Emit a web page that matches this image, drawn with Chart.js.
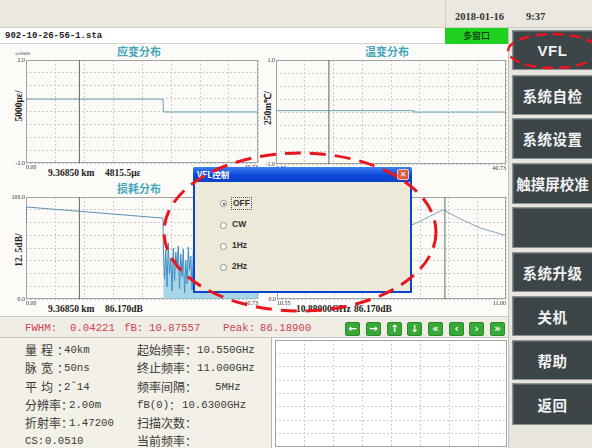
<!DOCTYPE html>
<html><head><meta charset="utf-8">
<script src="https://cdn.jsdelivr.net/npm/chart.js@4.4.1/dist/chart.umd.min.js"></script>
<style>
*{box-sizing:border-box}
html,body{margin:0;padding:0}
body{width:592px;height:448px;overflow:hidden;position:relative;background:#fcfbf8;font-family:"Noto Sans CJK SC",sans-serif;color:#333}
.a{position:absolute;white-space:nowrap}
.btn{position:absolute;left:512px;width:80px;background:#3c4548;border:1px solid #8a9194;border-right:none;box-shadow:inset 1px 1px 0 #5c6568;color:#f2f2f2;font-weight:700;font-size:14.5px;display:flex;align-items:center;justify-content:center;letter-spacing:0.5px}
.arr{position:absolute;top:322px;width:15px;height:14px;background:#38a838;border:1px solid #2b8a2b;border-radius:2px;color:#fff;font:bold 10px "DejaVu Sans";display:flex;align-items:center;justify-content:center;line-height:1}
.ttl{font-size:11px;font-weight:700;color:#43a8ba;line-height:14px}
.cur{font:bold 9.5px "Liberation Serif";color:#222;line-height:12px}
.yt{font:bold 9.5px "Liberation Serif";color:#222;transform:rotate(-90deg);width:60px;text-align:center;height:12px;line-height:12px}
.inf{font-size:12px;color:#3a3a3a;line-height:14px}
.m{font-family:"Liberation Mono";font-size:10.7px}
.st{font-family:"Liberation Mono";font-size:10.7px;color:#cf4250;line-height:14px;top:321px}
.rad{position:absolute;width:7px;height:7px;border:1px solid #8d8d8d;border-radius:50%;background:#fff}
.rt{font:bold 8.5px "Liberation Sans";color:#333;line-height:11px}
</style></head><body>

<!-- header -->
<div class="a" style="left:0;top:0;width:592px;height:28px;background:#ebe8e0;border-bottom:1px solid #d2cfc6"></div>
<div class="a" style="left:445px;top:0;width:1px;height:28px;background:#cfccc3"></div>
<div class="a" style="left:455px;top:11px;font:bold 10.5px 'Liberation Serif';color:#333">2018-01-16</div>
<div class="a" style="left:526px;top:11px;font:bold 10.5px 'Liberation Serif';color:#333">9:37</div>
<div class="a" style="left:0;top:28px;width:508px;height:16px;background:#fff;border-bottom:1px solid #d4d4d4"></div>
<div class="a" style="left:5px;top:30px;font:bold 9px 'Liberation Mono';color:#222;line-height:12px">902-10-26-56-1.sta</div>
<div class="a" style="left:445px;top:28px;width:63px;height:16px;background:#1fd21f;font-size:9px;color:#111;text-align:center;line-height:16px">多窗口</div>

<!-- right column -->
<div class="a" style="left:508px;top:28px;width:84px;height:420px;background:#e8e5dc;border-left:1px solid #c4c1b8"></div>
<div class="btn" style="top:30px;height:40px;font-family:'Liberation Sans';font-size:15px">VFL</div>
<div class="btn" style="top:75px;height:40px">系统自检</div>
<div class="btn" style="top:118px;height:41px">系统设置</div>
<div class="btn" style="top:163px;height:41px;letter-spacing:0">触摸屏校准</div>
<div class="btn" style="top:207px;height:41px"></div>
<div class="btn" style="top:252px;height:40px">系统升级</div>
<div class="btn" style="top:296px;height:40px">关机</div>
<div class="btn" style="top:340px;height:40px">帮助</div>
<div class="btn" style="top:383px;height:42px">返回</div>

<!-- chart titles and labels -->
<div class="a ttl" style="left:117px;top:44px">应变分布</div>
<div class="a ttl" style="left:365px;top:44px">温变分布</div>
<div class="a ttl" style="left:117px;top:181px">损耗分布</div>
<div class="a" style="left:15px;top:51px;font:5px 'Liberation Serif';color:#333">x10000</div>
<div class="a yt" style="left:-11px;top:100px">5000με/</div>
<div class="a yt" style="left:-11px;top:244px">12. 5dB/</div>
<div class="a yt" style="left:238px;top:102px">250m℃/</div>
<div class="a cur" style="left:48px;top:167px">9.36850 km</div>
<div class="a cur" style="left:105px;top:167px">4815.5με</div>
<div class="a cur" style="left:48px;top:303px">9.36850 km</div>
<div class="a cur" style="left:105px;top:303px">86.170dB</div>
<div class="a cur" style="left:296px;top:303px">10.88000GHz</div>
<div class="a cur" style="left:354px;top:303px">86.170dB</div>

<!-- status bar -->
<div class="a" style="left:0;top:316px;width:508px;height:22px;background:#f0ede5;border-top:1px solid #cfccc3;border-bottom:1px solid #c9c6bd"></div>
<div class="a st" style="left:25px">FWHM:</div>
<div class="a st" style="left:70px">0.04221</div>
<div class="a st" style="left:124px">fB:</div>
<div class="a st" style="left:149px">10.87557</div>
<div class="a st" style="left:223px">Peak:</div>
<div class="a st" style="left:260px">86.18900</div>
<div class="arr" style="left:345px">←</div>
<div class="arr" style="left:366px">→</div>
<div class="arr" style="left:387px">↑</div>
<div class="arr" style="left:407px">↓</div>
<div class="arr" style="left:428px">«</div>
<div class="arr" style="left:449px">‹</div>
<div class="arr" style="left:469px">›</div>
<div class="arr" style="left:490px">»</div>

<!-- info panel -->
<div class="a" style="left:0;top:338px;width:272px;height:110px;background:#f3f0e8;border-right:1px solid #b9b6ae"></div>
<div class="a" style="left:272px;top:338px;width:236px;height:110px;background:#fff"></div>
<div class="a inf" style="left:25px;top:343px;letter-spacing:4px">量程：</div><div class="a inf m" style="left:64px;top:343px">40km</div>
<div class="a inf" style="left:25px;top:361px;letter-spacing:4px">脉宽：</div><div class="a inf m" style="left:64px;top:361px">50ns</div>
<div class="a inf" style="left:25px;top:380px;letter-spacing:4px">平均：</div><div class="a inf m" style="left:64px;top:380px">2ˆ14</div>
<div class="a inf" style="left:25px;top:398px">分辨率：</div><div class="a inf m" style="left:69px;top:398px">2.00m</div>
<div class="a inf" style="left:25px;top:416px">折射率：</div><div class="a inf m" style="left:69px;top:416px">1.47200</div>
<div class="a inf m" style="left:25px;top:434px">CS:</div><div class="a inf m" style="left:45px;top:434px">0.0510</div>
<div class="a inf" style="left:137px;top:343px">起始频率：</div><div class="a inf m" style="left:197px;top:343px">10.550GHz</div>
<div class="a inf" style="left:137px;top:361px">终止频率：</div><div class="a inf m" style="left:197px;top:361px">11.000GHz</div>
<div class="a inf" style="left:137px;top:380px">频率间隔：</div><div class="a inf m" style="left:215px;top:380px">5MHz</div>
<div class="a inf m" style="left:137px;top:398px">fB(0)</div><div class="a inf" style="left:169px;top:398px">：</div><div class="a inf m" style="left:182px;top:398px">10.6300GHz</div>
<div class="a inf" style="left:137px;top:416px">扫描次数：</div>
<div class="a inf" style="left:137px;top:434px">当前频率：</div>

<div id="stage"></div>

<!-- dialog -->
<div class="a" style="left:193px;top:167px;width:219px;height:126px;background:#0b44d0;border-radius:3px 3px 0 0;z-index:10">
  <div class="a" style="left:0;top:0;width:219px;height:15px;background:linear-gradient(#3d80f2,#0b48d8 55%,#0a42c8);border-radius:3px 3px 0 0"></div>
  <div class="a" style="left:4px;top:2px;font:bold 8.5px 'Noto Sans CJK SC';color:#fff;line-height:11px">VFL控制</div>
  <div class="a" style="left:204px;top:2px;width:12px;height:11px;background:#d9603e;border:1px solid #f4c7b5;border-radius:2px;color:#fff;font:bold 8px 'DejaVu Sans';text-align:center;line-height:9px">✕</div>
  <div class="a" style="left:2px;top:15px;width:215px;height:109px;background:#ece9d8"></div>
  <div class="rad" style="left:27px;top:33px"><div style="position:absolute;left:1.5px;top:1.5px;width:2px;height:2px;border-radius:50%;background:#333"></div></div>
  <div class="a rt" style="left:38px;top:30px;border:1px dotted #555;padding:0 1px">OFF</div>
  <div class="rad" style="left:27px;top:55px"></div><div class="a rt" style="left:39px;top:52px">CW</div>
  <div class="rad" style="left:27px;top:76px"></div><div class="a rt" style="left:39px;top:73px">1Hz</div>
  <div class="rad" style="left:27px;top:97px"></div><div class="a rt" style="left:39px;top:94px">2Hz</div>
</div>

<svg class="a" style="left:0;top:0;z-index:20" width="592" height="448">
  <ellipse cx="300" cy="232" rx="136" ry="79" fill="none" stroke="#e8161e" stroke-width="3" stroke-dasharray="16 9"/>
  <ellipse cx="553" cy="51" rx="45" ry="17" fill="none" stroke="#e8161e" stroke-width="2.5" stroke-dasharray="11 6"/>
</svg>

<script>
// ---- axis ranges and tick labels ----
const distRange = [0, 40.73];
const strainRange = [-2.0, 2.0];
const tempRange = [-1.0, 1.0];
const lossRange = [0, 100];
const freqRange = [10.55, 11.00];
const specRange = [0, 100];
const distTicks = ['0.00', '40.73'];
const strainTicks = ['-2.0', '2.0'];
const tempTicks = ['-1.0', '1.0'];
const lossTicks = ['0.0', '100.0'];
const freqTicks = ['10.55', '11.00'];
const specTicks = ['0.0', '100.0'];
const cursorKm = 9.3685;
const cursorGHz = 10.88;

// ---- series ----
const strainKm = [0, 24.05, 24.12, 40.73];
const strainVal = [0.48, 0.48, -0.02, -0.02];
const tempKm = [0, 24.3, 24.4, 40.73];
const tempVal = [0.025, 0.025, 0.0, 0.0];
const lossKm = [0, 0.05, 24.05, 24.10];
const lossDb = [75, 90.2, 79.3, 53];
const noiseKm = [24.10,24.32,24.54,24.76,24.98,25.20,25.42,25.64,25.86,26.08,
  26.30,26.52,26.74,26.96,27.18,27.40,27.62,27.84,28.06,28.28,
  28.50,28.72,28.94,29.16,29.38,29.60,29.82,30.04,30.26,30.48,
  30.70,30.92,31.14,31.36,31.58,31.80,32.02,32.24,32.46,32.68,
  32.90,33.12,33.34,33.56,33.78,34.00,34.22,34.44,34.66,34.88,
  35.10,35.32,35.54,35.76,35.98,36.20,36.42,36.64,36.86,37.08,
  37.30,37.52,37.74,37.96,38.18,38.40,38.62,38.84,39.06,39.28,
  39.50,39.72,39.94,40.16,40.38,40.73];
const noiseDb = [53,20,48,12,55,25,40,8,50,18,
  46,30,52,10,44,22,49,6,38,15,
  51,28,42,9,47,19,36,12,45,24,
  50,7,41,16,39,26,48,11,35,20,
  44,8,40,17,37,25,46,10,33,14,
  42,22,38,6,45,18,36,12,40,21,
  34,9,43,15,37,24,31,11,39,17,
  35,8,41,20,30,12];
const specGHz = [10.55,10.56,10.57,10.58,10.59,10.60,10.61,10.62,10.63,10.64,
  10.65,10.66,10.67,10.68,10.69,10.70,10.71,10.72,10.73,10.74,
  10.75,10.76,10.77,10.78,10.79,10.80,10.81,10.82,10.83,10.84,
  10.85,10.86,10.87,10.875,10.88,10.89,10.90,10.91,10.92,10.93,
  10.94,10.95,10.96,10.97,10.98,10.99,11.00];
const specDb = [40.5,41.5,42.5,43.5,44.5,45.5,46.5,47.5,48.5,49.5,
  50.5,52,53.5,55,56.5,58,59.5,61,62.5,64,
  65.5,67,68,69,70,71,72,73.5,76,78.5,
  81,83.5,86,87.2,86.6,83.8,81.2,78.6,76.2,74,
  71.6,69.6,68,66.6,65.2,63.6,62.2];

const pts = (xs, ys) => xs.map((x, i) => ({x: x, y: ys[i]}));
const nine = (lo, hi) => s => { s.ticks = Array.from({length: 9}, (_, i) => ({value: lo + (hi - lo) * i / 8})); };

const framePlugin = {id: 'frame', beforeDatasetsDraw(c) {
  const a = c.chartArea, x = c.ctx;
  x.save(); x.strokeStyle = '#a3a3a3'; x.lineWidth = 1;
  x.strokeRect(Math.round(a.left) + 0.5, Math.round(a.top) + 0.5, Math.round(a.right - a.left) - 1, Math.round(a.bottom - a.top) - 1);
  x.restore();
}};

function axis(range, labels, fit) {
  return {
    type: 'linear', min: range[0], max: range[1],
    afterBuildTicks: nine(range[0], range[1]),
    afterFit: fit,
    grid: {color: '#cdcdcd', drawTicks: false, lineWidth: 1},
    border: {display: false, dash: [2, 2]},
    ticks: {
      display: !!labels, autoSkip: false, maxRotation: 0, padding: 1,
      font: {family: 'Liberation Serif', size: 6}, color: '#333',
      callback: (v, i, t) => labels ? (i === 0 ? labels[0] : (i === t.length - 1 ? labels[1] : '')) : ''
    }
  };
}

function makeChart(box, plot, xr, yr, xl, yl, datasets) {
  const wrap = document.createElement('div');
  wrap.className = 'a';
  wrap.style.cssText = 'left:' + box[0] + 'px;top:' + box[1] + 'px;width:' + box[2] + 'px;height:' + box[3] + 'px;';
  const cv = document.createElement('canvas');
  cv.width = box[2]; cv.height = box[3];
  wrap.appendChild(cv);
  document.getElementById('stage').appendChild(wrap);
  const padTop = plot[1] - box[1];
  const padRight = box[0] + box[2] - (plot[0] + plot[2]);
  const yW = plot[0] - box[0];
  const xH = box[1] + box[3] - (plot[1] + plot[3]);
  const xa = axis(xr, xl, s => { s.height = xH; });
  xa.ticks.align = 'inner';
  const ya = axis(yr, yl, s => { s.width = yW; });
  new Chart(cv, {
    type: 'line',
    data: {datasets: datasets},
    options: {
      responsive: false, animation: false, devicePixelRatio: 1,
      layout: {padding: {top: padTop, right: padRight, left: 0, bottom: 0}},
      plugins: {legend: {display: false}, tooltip: {enabled: false}},
      elements: {point: {radius: 0}, line: {borderWidth: 1, tension: 0}},
      scales: {x: xa, y: ya}
    },
    plugins: [framePlugin]
  });
}

const cursorColor = '#55705f';

makeChart([0, 54, 262, 116], [26, 60, 232, 103], distRange, strainRange, distTicks, strainTicks, [
  {data: pts([cursorKm, cursorKm], strainRange), borderColor: cursorColor, borderWidth: 1},
  {data: pts(strainKm, strainVal), borderColor: '#6c9db2', borderWidth: 1}
]);
makeChart([264, 54, 246, 116], [276, 60, 230, 104], distRange, tempRange, distTicks, tempTicks, [
  {data: pts([cursorKm, cursorKm], tempRange), borderColor: cursorColor, borderWidth: 1},
  {data: pts(tempKm, tempVal), borderColor: '#6c9db2', borderWidth: 1}
]);
makeChart([0, 191, 262, 117], [26, 197, 232, 102], distRange, lossRange, distTicks, lossTicks, [
  {data: pts([cursorKm, cursorKm], lossRange), borderColor: cursorColor, borderWidth: 1},
  {data: pts(lossKm, lossDb), borderColor: '#5a8fb5', borderWidth: 1},
  {data: pts(noiseKm, noiseDb), borderColor: '#3f8cc0', borderWidth: 1, fill: 'origin', backgroundColor: 'rgba(140,202,228,0.75)'}
]);
makeChart([264, 191, 246, 117], [277, 197, 229, 102], freqRange, specRange, freqTicks, specTicks, [
  {data: pts([cursorGHz, cursorGHz], specRange), borderColor: cursorColor, borderWidth: 1},
  {data: pts(specGHz, specDb), borderColor: '#7aa4b8', borderWidth: 1}
]);
makeChart([275, 340, 232, 107], [275, 340, 232, 107], [0, 8], [0, 8], null, null, []);
</script>
</body></html>
